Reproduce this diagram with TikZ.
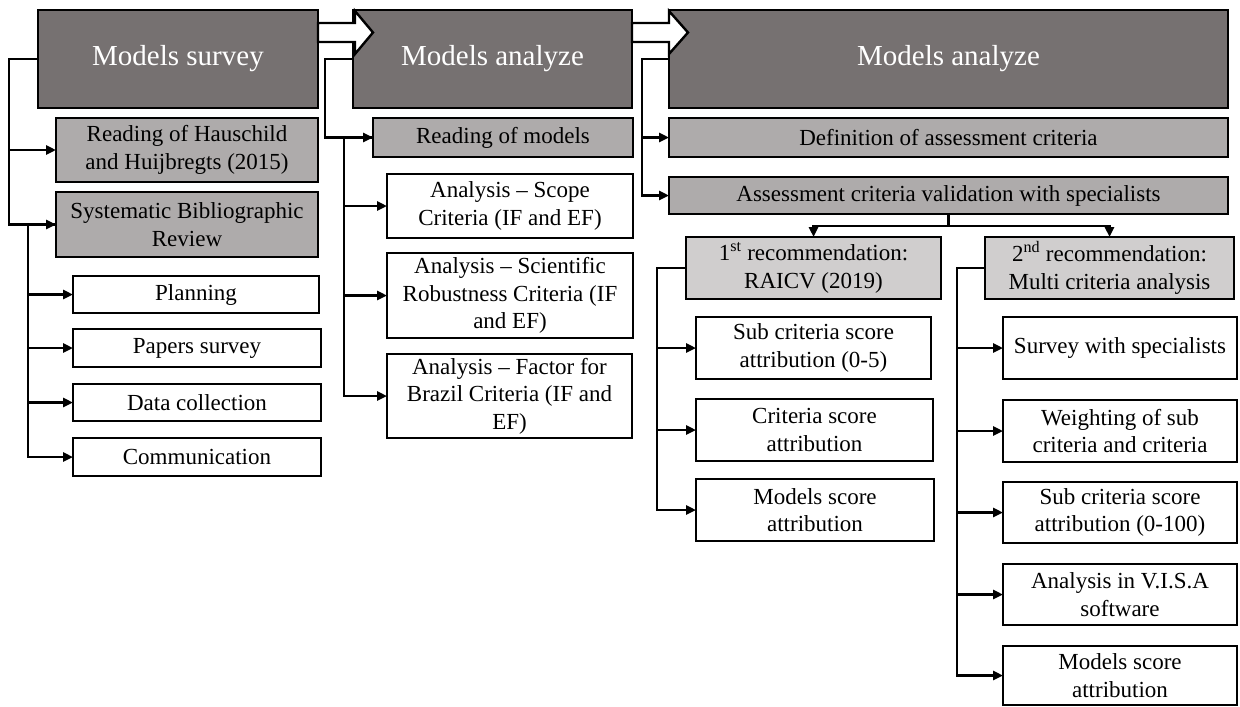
\documentclass[tikz,border=0pt]{standalone}
\usepackage{fontspec}
\setmainfont{Liberation Serif}
\usetikzlibrary{arrows.meta,calc}
\definecolor{hdrgray}{HTML}{767171}
\definecolor{midgray}{HTML}{AEABAB}
\definecolor{litegray}{HTML}{D0CECE}
\tikzset{
  base/.style={draw=black, line width=2.8pt, inner sep=0pt, outer sep=0pt, align=center,
    font=\fontsize{23}{27.5}\selectfont, text=black},
  hdr/.style={base, fill=hdrgray, text=white, font=\fontsize{29}{34}\selectfont},
  mid/.style={base, fill=midgray},
  lite/.style={base, fill=litegray},
  wht/.style={base, fill=white},
  conn/.style={draw=black, line width=2.5pt, -{Triangle[length=10pt,width=9pt]}},
  blockarrow/.style={draw=black, line width=2.4pt, fill=white, line join=miter}
}
\newcommand\bx[7]{\node[#6,anchor=north west,minimum width={#4-#2},minimum height={#5-#3}] (#1) at (#2,#3) {#7};}
\begin{document}
\begin{tikzpicture}[x=1pt,y=-1pt]
\useasboundingbox (0,0) rectangle (1240,707);
% column 1
\bx{H1}{38}{10}{318}{108}{hdr}{Models survey}
\bx{A1}{56}{118}{318}{182}{mid}{Reading of Hauschild\\and Huijbregts (2015)}
\bx{A2}{56}{192}{318}{257}{mid}{Systematic Bibliographic\\Review}
\bx{B1}{73}{276}{319}{313}{wht}{Planning}
\bx{B2}{73}{329}{321}{367}{wht}{Papers survey}
\bx{B3}{73}{384}{321}{421}{wht}{Data collection}
\bx{B4}{73}{438}{321}{476}{wht}{Communication}
% column 2
\bx{H2}{353}{10}{632}{108}{hdr}{Models analyze}
\bx{C1}{373}{118}{633}{157}{mid}{Reading of models}
\bx{C2}{387}{174}{633}{238}{wht}{Analysis – Scope\\Criteria (IF and EF)}
\bx{C3}{387}{253}{633}{338}{wht}{Analysis – Scientific\\Robustness Criteria (IF\\and EF)}
\bx{C4}{387}{354}{632}{438}{wht}{Analysis – Factor for\\Brazil Criteria (IF and\\EF)}
% column 3
\bx{H3}{669}{10}{1228}{108}{hdr}{Models analyze}
\bx{D1}{669}{118}{1228}{157}{mid}{Definition of assessment criteria}
\bx{D2}{669}{177}{1228}{214}{mid}{Assessment criteria validation with specialists}
\bx{E1}{686}{237}{941}{299}{lite}{1\textsuperscript{st} recommendation:\\RAICV (2019)}
\bx{E2}{696}{317}{931}{379}{wht}{Sub criteria score\\attribution (0-5)}
\bx{E3}{696}{399}{933}{461}{wht}{Criteria score\\attribution}
\bx{E4}{696}{479}{934}{541}{wht}{Models score\\attribution}
\bx{F1}{985}{237}{1234}{299}{lite}{2\textsuperscript{nd} recommendation:\\Multi criteria analysis}
\bx{F2}{1003}{317}{1237}{379}{wht}{Survey with specialists}
\bx{F3}{1003}{400}{1237}{462}{wht}{Weighting of sub\\criteria and criteria}
\bx{F4}{1003}{482}{1237}{543}{wht}{Sub criteria score\\attribution (0-100)}
\bx{F5}{1003}{564}{1237}{625}{wht}{Analysis in V.I.S.A\\software}
\bx{F6}{1003}{646}{1237}{705}{wht}{Models score\\attribution}
% block arrows
\draw[blockarrow] ($(H1.north east)+(0,13)$) -- ($(H2.north west)+(2,13)$) -- ($(H2.north west)+(2,1)$)
  -- ($(H2.north west)+(20,22.5)$) -- ($(H2.north west)+(2,44)$) -- ($(H2.north west)+(2,32)$)
  -- ($(H1.north east)+(0,32)$) -- cycle;
\draw[blockarrow] ($(H2.north east)+(0,13)$) -- ($(H3.north west)+(0,13)$) -- ($(H3.north west)+(0,1)$)
  -- ($(H3.north west)+(19,22.5)$) -- ($(H3.north west)+(0,44)$) -- ($(H3.north west)+(0,32)$)
  -- ($(H2.north east)+(0,32)$) -- cycle;
% connectors column 1
\draw[conn] (H1.west) -- ++(-29,0) |- (A1.west);
\draw[conn] (H1.west) -- ++(-29,0) |- (A2.west);
\foreach \t in {B1,B2,B3,B4} \draw[conn] (A2.west) -- ++(-28,0) |- (\t.west);
% connectors column 2
\draw[conn] (H2.west) -- ++(-28,0) |- (C1.west);
\foreach \t in {C2,C3,C4} \draw[conn] (C1.west) -- ++(-29,0) |- (\t.west);
% connectors column 3
\draw[conn] (H3.west) -- ++(-27,0) |- (D1.west);
\draw[conn] (H3.west) -- ++(-27,0) |- (D2.west);
\draw[conn] (D2.south) -- ++(0,12) -| (E1.north);
\draw[conn] (D2.south) -- ++(0,12) -| (F1.north);
\foreach \t in {E2,E3,E4} \draw[conn] (E1.west) -- ++(-29,0) |- (\t.west);
\foreach \t in {F2,F3,F4,F5,F6} \draw[conn] (F1.west) -- ++(-28,0) |- (\t.west);
\end{tikzpicture}
\end{document}
